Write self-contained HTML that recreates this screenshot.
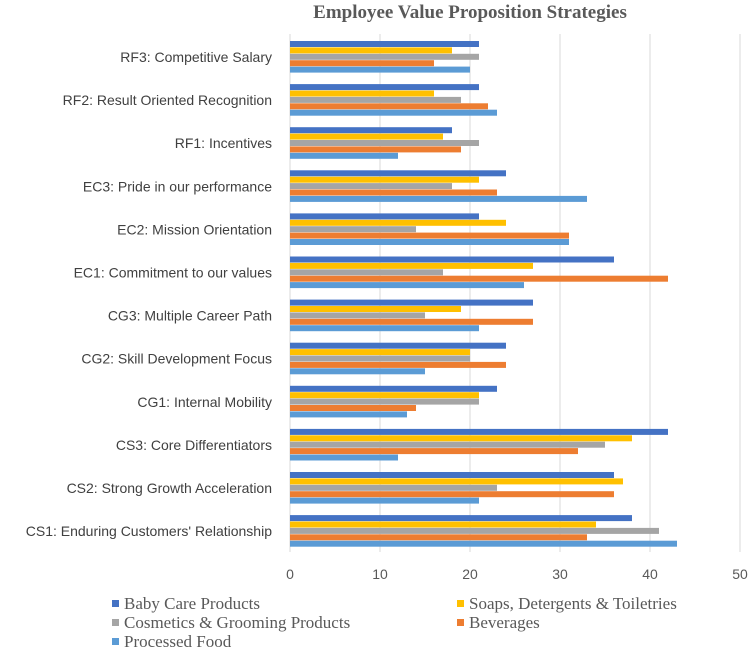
<!DOCTYPE html>
<html><head><meta charset="utf-8"><style>
body{margin:0;background:#fff;}
svg{display:block;}
</style></head><body>
<svg id="chart" width="750" height="654" xmlns="http://www.w3.org/2000/svg">
<text x="470" y="18" text-anchor="middle" font-family="Liberation Serif, serif" font-weight="bold" font-size="19" fill="#595959">Employee Value Proposition Strategies</text>
<g id="grid"></g><g id="bars"></g><g id="labels"></g><g id="legend"></g>
</svg>
<script>
const categories=["RF3: Competitive Salary","RF2: Result Oriented Recognition","RF1: Incentives","EC3: Pride in our performance","EC2: Mission Orientation","EC1: Commitment to our values","CG3: Multiple Career Path","CG2: Skill Development Focus","CG1: Internal Mobility","CS3: Core Differentiators","CS2: Strong Growth Acceleration","CS1: Enduring Customers' Relationship"];
const seriesNames=["Baby Care Products","Soaps, Detergents & Toiletries","Cosmetics & Grooming Products","Beverages","Processed Food"];
const babyCare=[21,21,18,24,21,36,27,24,23,42,36,38];
const soaps=[18,16,17,21,24,27,19,20,21,38,37,34];
const cosmetics=[21,19,21,18,14,17,15,20,21,35,23,41];
const beverages=[16,22,19,23,31,42,27,24,14,32,36,33];
const processedFood=[20,23,12,33,31,26,21,15,13,12,21,43];
const ticks=[0,10,20,30,40,50];
const colors=["#4472C4","#FFC000","#A5A5A5","#ED7D31","#5B9BD5"];
const series=[babyCare,soaps,cosmetics,beverages,processedFood];
const NS="http://www.w3.org/2000/svg";
const x=v=>290+v*9;
const groupTop=i=>41+i*43.1;
const barH=6.4;
function mk(t,a,p){const e=document.createElementNS(NS,t);for(const k in a)e.setAttribute(k,a[k]);p.appendChild(e);return e;}
const grid=document.getElementById('grid'),bars=document.getElementById('bars'),labels=document.getElementById('labels'),legend=document.getElementById('legend');
ticks.forEach(t=>{
 const l=mk('line',{x1:x(t),x2:x(t),y1:34,y2:552,stroke:'#d9d9d9','stroke-width':1},grid);
 
 
 const tx=mk('text',{x:x(t),y:579,'text-anchor':'middle','font-family':'Liberation Sans, sans-serif','font-size':14,fill:'#595959'},labels);
 tx.textContent=t;
 
 
});
categories.forEach((c,i)=>{
 const tx=mk('text',{x:272,y:groupTop(i)+21,'text-anchor':'end','font-family':'Liberation Sans, sans-serif','font-size':14,fill:'#404040'},labels);
 tx.textContent=c;
 
 
 series.forEach((s,j)=>{
  const r=mk('rect',{x:x(0),y:groupTop(i)+j*barH,width:x(s[i])-x(0),height:barH-0.4,fill:colors[j]},bars);
  
  
 });
});
const legPos=[[112,609],[457,609],[112,628],[457,628],[112,647]];
seriesNames.forEach((n,j)=>{
 const [lx,ly]=legPos[j];
 const r=mk('rect',{x:lx,y:ly-9,width:7,height:7,fill:colors[j]},legend);
 
 
 const t=mk('text',{x:lx+12,y:ly,'font-family':'Liberation Serif, serif','font-size':17,fill:'#595959'},legend);
 t.textContent=n;
 
 
});
</script>
</body></html>
